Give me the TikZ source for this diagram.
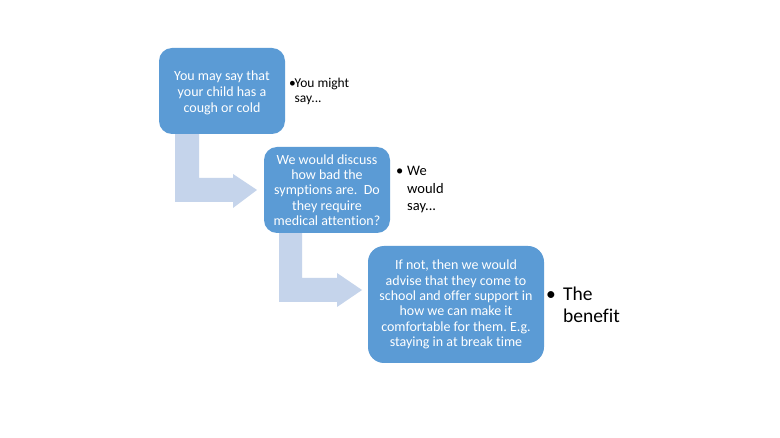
\documentclass[tikz,border=0pt]{standalone}
\usepackage{fontspec}
\setmainfont{Carlito}[Ligatures=NoCommon]
\frenchspacing
\definecolor{boxblue}{RGB}{91,155,213}
\definecolor{arrowblue}{RGB}{197,212,235}
\begin{document}
\begin{tikzpicture}[x=1pt,y=-1pt,
  stepbox/.style={fill=boxblue, draw=none, rounded corners=13pt, text=white, align=center,
    inner sep=0pt, font=\fontsize{14}{15.3}\selectfont},
  bentarrow/.style={fill=arrowblue, draw=none},
  note/.style={anchor=north west, inner sep=0pt, align=left}]
\useasboundingbox[fill=white] (0,0) rectangle (780,438);
% bent arrows (drawn first, behind boxes)
\fill[bentarrow] (175,128) -- (199,128) -- (199,178) -- (233,178) -- (233,174) -- (257,190)
  -- (233,208) -- (233,202) -- (175,202) -- cycle;
\fill[bentarrow] (279,228) -- (302,228) -- (302,278) -- (337,278) -- (337,273) -- (362,290)
  -- (337,307) -- (337,302) -- (279,302) -- cycle;
% boxes
\node[stepbox, minimum width=126pt, minimum height=86pt, font=\fontsize{14}{15.8}\selectfont] (b1) at (222,91)
  {\rule{0pt}{13pt}You may say that\\your child has a\\cough or cold};
\node[stepbox, minimum width=126pt, minimum height=86pt] (b2) at (327,190)
  {We would discuss\\how bad the\\symptions are.\ \ Do\\they require\\medical attention?};
\node[stepbox, minimum width=176pt, minimum height=117pt, rounded corners=16pt] (b3) at (456,304.5)
  {If not, then we would\\advise that they come to\\school and offer support in\\how we can make it\\comfortable for them. E.g.\\staying in at break time};
% side notes
\node[note, font=\fontsize{13.5}{15}\selectfont] (n1) at (289,78)
  {\makebox[5.5pt][l]{•}You might\\\hspace*{5.5pt}say...};
\node[note, font=\fontsize{14.5}{17.5}\selectfont] (n2) at (396,166)
  {\makebox[11pt][l]{•}We\\\hspace*{11pt}would\\\hspace*{11pt}say...};
\node[note, font=\fontsize{19.5}{22}\selectfont] (n3) at (546,287)
  {\makebox[17pt][l]{•}The\\\hspace*{17pt}benefit};
\end{tikzpicture}
\end{document}
